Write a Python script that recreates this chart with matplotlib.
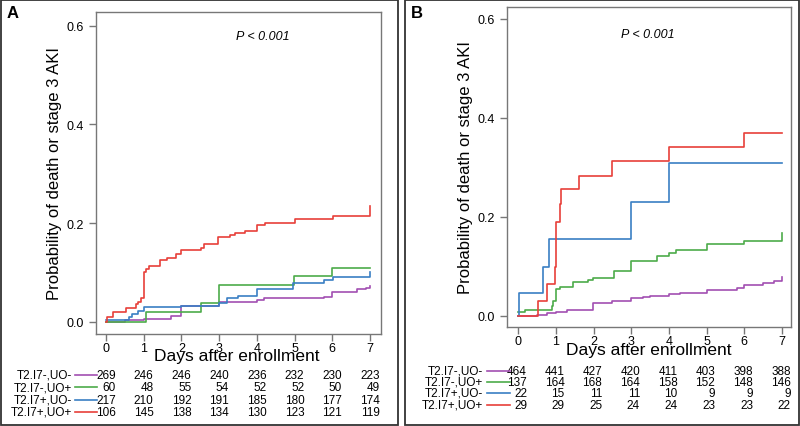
import numpy as np
import matplotlib
matplotlib.use('Agg')
import matplotlib.pyplot as plt
from matplotlib.patches import Rectangle
from matplotlib.transforms import blended_transform_factory

plt.rcParams['font.family'] = ['Liberation Sans', 'DejaVu Sans']

#colours of the four groups
c_purple = '#a24fb2'
c_green = '#4dab4a'
c_blue = '#3a7fc4'
c_red = '#e7403a'

groups = ['T2.I7-,UO-', 'T2.I7-,UO+', 'T2.I7+,UO-', 'T2.I7+,UO+']
days = [0, 1, 2, 3, 4, 5, 6, 7]

#panel A step curves (time in days, cumulative probability)
a_purple_t = [0, 0.5, 1.0, 1.72, 1.99, 3.0, 4.0, 4.18, 5.77, 6.0, 6.65, 6.9, 7.0]
a_purple_p = [0, 0.003, 0.006, 0.012, 0.032, 0.039, 0.044, 0.048, 0.051, 0.06, 0.066, 0.069, 0.072]
a_green_t = [0, 1.06, 2.52, 3.0, 4.99, 6.0, 7.0]
a_green_p = [0, 0.02, 0.038, 0.074, 0.092, 0.109, 0.109]
a_blue_t = [0, 0.61, 0.7, 0.84, 1.01, 1.99, 3.0, 3.2, 3.49, 4.0, 4.97, 5.77, 6.01, 6.99, 7.0]
a_blue_p = [0.004, 0.009, 0.016, 0.022, 0.029, 0.032, 0.038, 0.049, 0.053, 0.066, 0.078, 0.085, 0.09, 0.09, 0.10]
a_red_t = [0, 0.02, 0.19, 0.53, 0.8, 0.86, 0.93, 1.01, 1.05, 1.14, 1.44, 1.63, 1.86, 1.99,
           2.52, 2.6, 2.98, 3.3, 3.42, 3.69, 4.0, 4.22, 5.01, 6.03, 6.99, 7.0]
a_red_p = [0, 0.009, 0.019, 0.028, 0.036, 0.04, 0.049, 0.10, 0.107, 0.113, 0.126, 0.13, 0.137, 0.145,
           0.15, 0.158, 0.171, 0.175, 0.179, 0.184, 0.196, 0.201, 0.208, 0.215, 0.215, 0.235]

#panel B step curves
b_purple_t = [0, 0.5, 0.75, 1.0, 1.3, 1.98, 2.5, 3.0, 3.3, 3.5, 4.0, 4.3, 5.0, 5.8, 6.0, 6.5, 6.8, 6.99, 7.0]
b_purple_p = [0, 0.002, 0.005, 0.008, 0.012, 0.026, 0.03, 0.035, 0.038, 0.04, 0.043, 0.046, 0.052,
              0.056, 0.062, 0.066, 0.07, 0.072, 0.078]
b_green_t = [0, 0.19, 0.9, 0.93, 1.01, 1.1, 1.45, 1.84, 1.98, 2.53, 2.99, 3.68, 3.99, 4.2, 5.0, 6.0, 6.99, 7.0]
b_green_p = [0.007, 0.012, 0.02, 0.03, 0.054, 0.057, 0.067, 0.072, 0.077, 0.09, 0.111, 0.121, 0.127,
             0.133, 0.145, 0.15, 0.155, 0.168]
b_blue_t = [0, 0.01, 0.65, 0.81, 2.99, 3.99, 7.0]
b_blue_p = [0, 0.046, 0.098, 0.154, 0.23, 0.308, 0.308]
b_red_t = [0, 0.52, 0.75, 0.97, 1.01, 1.1, 1.14, 1.62, 2.5, 3.99, 6.0, 7.0]
b_red_p = [0, 0.029, 0.064, 0.099, 0.19, 0.226, 0.256, 0.283, 0.313, 0.341, 0.37, 0.37]

#numbers at risk
a_risk = [[269, 246, 246, 240, 236, 232, 230, 223],
          [60, 48, 55, 54, 52, 52, 50, 49],
          [217, 210, 192, 191, 185, 180, 177, 174],
          [106, 145, 138, 134, 130, 123, 121, 119]]
b_risk = [[464, 441, 427, 420, 411, 403, 398, 388],
          [137, 164, 168, 164, 158, 152, 148, 146],
          [22, 15, 11, 11, 10, 9, 9, 9],
          [29, 29, 25, 24, 24, 23, 23, 22]]

W, H = 800, 427
fig = plt.figure(figsize=(W / 100, H / 100), dpi=100)

def fx(px):
    return px / W

def fy(py):
    return 1 - py / H

def panel(rect, xlim, ylim, curves, risk, letter, letter_xy, p_xy, xlab_xy, row_y, lab_right, line_x, num_off):
    ax = fig.add_axes(rect)
    colors = [c_purple, c_green, c_blue, c_red]
    for (t, p), c in zip(curves, colors):
        ax.step(t, p, where='post', color=c, lw=1.2)
    ax.set_xlim(xlim)
    ax.set_ylim(ylim)
    ax.set_xticks(days)
    ax.set_xticklabels([str(d) for d in days], fontsize=9)
    ax.set_yticks([0, 0.2, 0.4, 0.6])
    ax.set_yticklabels(['0.0', '0.2', '0.4', '0.6'], fontsize=9)
    for s in ax.spines.values():
        s.set_color('#777777')
        s.set_linewidth(1.0)
    ax.tick_params(axis='both', color='#777777', length=5, width=1.0, pad=1)
    ax.tick_params(axis='y', pad=4)
    ax.set_ylabel('Probability of death or stage 3 AKI', fontsize=12, labelpad=3)
    fig.text(fx(xlab_xy[0]), fy(xlab_xy[1]), 'Days after enrollment', fontsize=12.5,
             ha='center', va='center')
    fig.text(fx(p_xy[0]), fy(p_xy[1]), 'P < 0.001', fontsize=9, style='italic',
             ha='center', va='center')
    fig.text(fx(letter_xy[0]), fy(letter_xy[1]), letter, fontsize=12, fontweight='bold',
             ha='left', va='center')
    tr = blended_transform_factory(ax.transData, fig.transFigure)
    for i, (g, c) in enumerate(zip(groups, colors)):
        yy = fy(row_y[i])
        fig.text(fx(lab_right), yy, g, fontsize=8.5, ha='right', va='center')
        fig.add_artist(plt.Line2D([fx(line_x[0]), fx(line_x[1])], [yy, yy], color=c, lw=1.2))
        for d, n in zip(days, risk[i]):
            ax.text(d + num_off, yy, str(n), transform=tr, fontsize=8.5, ha='right', va='center',
                    clip_on=False)
    return ax

#panel A
panel([fx(96), fy(335), fx(285), 322 / H], (-0.265, 7.29), (-0.025, 0.628),
      [(a_purple_t, a_purple_p), (a_green_t, a_green_p), (a_blue_t, a_blue_p), (a_red_t, a_red_p)],
      a_risk, 'A', (7, 13), (263, 37), (237, 356),
      [376, 388.3, 401, 412.7], 72, (75, 97), 0.26)

#panel B
panel([fx(507), fy(328), fx(284), 320 / H], (-0.3, 7.24), (-0.023, 0.624),
      [(b_purple_t, b_purple_p), (b_green_t, b_green_p), (b_blue_t, b_blue_p), (b_red_t, b_red_p)],
      b_risk, 'B', (411, 13), (648, 35), (649, 351),
      [371.7, 382.7, 394, 405.7], 483, (487, 510), 0.23)

#outer frames of each panel
fig.add_artist(Rectangle((fx(1), fy(425.5)), fx(397), 424.5 / H, fill=False, ec='#333333', lw=1.3,
                         transform=fig.transFigure))
fig.add_artist(Rectangle((fx(405), fy(425.5)), fx(393.5), 424.5 / H, fill=False, ec='#333333', lw=1.3,
                         transform=fig.transFigure))

fig.savefig('out.png', dpi=100)
